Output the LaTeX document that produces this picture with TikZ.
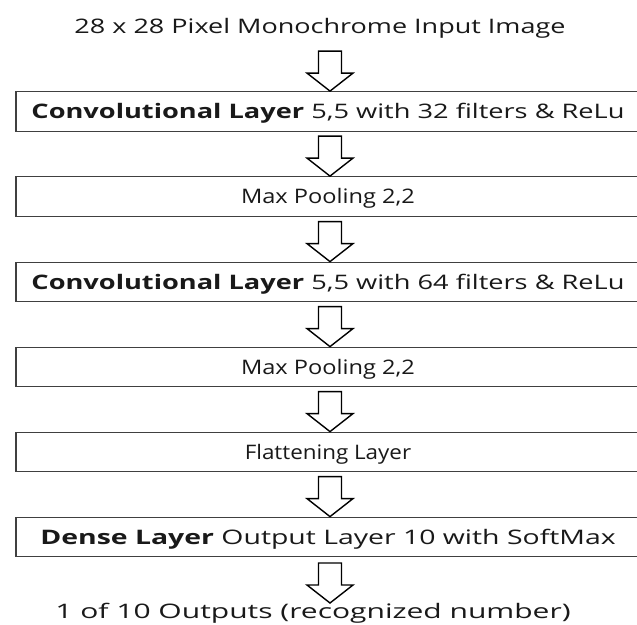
\documentclass[tikz,border=0pt]{standalone}
\usepackage{fontspec}
\setmainfont{Open Sans}
\newcommand\hstretch[2]{\scalebox{#1}[1]{#2}}
\begin{document}
\begin{tikzpicture}[x=1pt,y=-1pt,
  layerbox/.style={draw=black!75, line width=1.3pt, minimum width=624pt, minimum height=39.5pt, inner sep=0pt, text height=16pt, text depth=1.8pt, font=\fontsize{20}{24}\selectfont, text=black!90},
  plaintext/.style={inner sep=0pt, text height=16pt, text depth=1.8pt, font=\fontsize{20}{24}\selectfont, text=black!90},
  arrowline/.style={draw=black, line width=1.4pt, fill=white, line join=miter},
  fatarrow/.pic={\path[arrowline] (-11.5,-40) -- (11.5,-40) -- (11.5,-18) -- (23,-18) -- (0,0) -- (-23,-18) -- (-11.5,-18) -- cycle;}
]
\clip (0,0) rectangle (637,624);
\fill[white] (0,0) rectangle (637,624);
\node[plaintext] (title) at (320,26) {\hstretch{1.35}{28 x 28 Pixel Monochrome Input Image}};
\node[layerbox] (b1) at (328,111.5) {\hstretch{1.36}{\textbf{Convolutional Layer} 5,5 with 32 filters \& ReLu}};
\node[layerbox] (b2) at (328,196.5) {\hstretch{1.18}{Max Pooling 2,2}};
\node[layerbox] (b3) at (328,282) {\hstretch{1.36}{\textbf{Convolutional Layer} 5,5 with 64 filters \& ReLu}};
\node[layerbox] (b4) at (328,367) {\hstretch{1.18}{Max Pooling 2,2}};
\node[layerbox] (b5) at (328,452) {\hstretch{1.12}{Flattening Layer}};
\node[layerbox] (b6) at (328,537) {\hstretch{1.42}{\textbf{Dense Layer} Output Layer 10 with SoftMax}};
\node[plaintext] (out) at (313,611) {\hstretch{1.5}{1 of 10 Outputs (recognized number)}};
\coordinate (outtip) at (330,603);
\pic at ([xshift=2pt]b1.north) {fatarrow};
\pic at ([xshift=2pt]b2.north) {fatarrow};
\pic at ([xshift=2pt]b3.north) {fatarrow};
\pic at ([xshift=2pt]b4.north) {fatarrow};
\pic at ([xshift=2pt]b5.north) {fatarrow};
\pic at ([xshift=2pt]b6.north) {fatarrow};
\pic at (outtip) {fatarrow};
\end{tikzpicture}
\end{document}
